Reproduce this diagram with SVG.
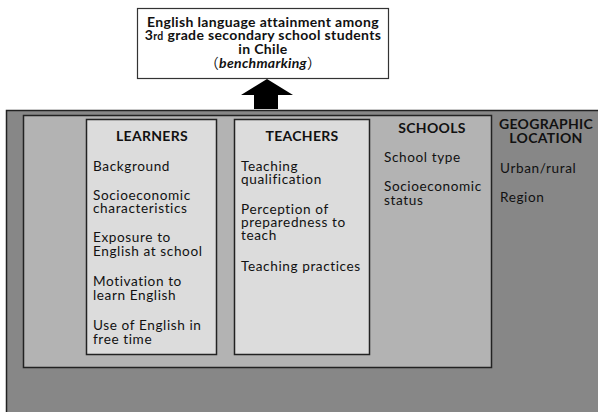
<svg xmlns="http://www.w3.org/2000/svg" width="598" height="412" viewBox="0 0 598 412">
<style>
text{font-family:Lato,"Noto Sans","Liberation Sans",sans-serif;fill:#111;}
.t{font-size:14px;font-weight:bold;text-anchor:middle;letter-spacing:0.35px;}
.h{font-size:14px;font-weight:bold;text-anchor:middle;letter-spacing:0.3px;}
.b{font-size:13.6px;letter-spacing:0.6px;}
.box{stroke:#222;stroke-width:1.5;}
</style>
<rect width="598" height="412" fill="#fff"/>
<g id="geographic">
<rect class="box" x="6.5" y="110.5" width="600" height="310" fill="#878787" stroke-width="2"/>
<text class="h" x="546" y="129">GEOGRAPHIC</text>
<text class="h" x="546" y="143">LOCATION</text>
<text class="b" x="500" y="173">Urban/rural</text>
<text class="b" x="500" y="202">Region</text>
</g>
<g id="schools">
<rect class="box" x="23.5" y="115.5" width="468" height="252" fill="#b3b3b3"/>
<text class="h" x="432" y="133">SCHOOLS</text>
<text class="b" x="384" y="162">School type</text>
<text class="b" x="384" y="191">Socioeconomic</text>
<text class="b" x="384" y="205">status</text>
</g>
<g id="learners">
<rect class="box" x="86.5" y="119.5" width="130" height="235" fill="#dcdcdc"/>
<text class="h" x="152" y="141">LEARNERS</text>
<text class="b" x="93" y="171">Background</text>
<text class="b" x="93" y="200">Socioeconomic</text>
<text class="b" x="93" y="213">characteristics</text>
<text class="b" x="93" y="242">Exposure to</text>
<text class="b" x="93" y="256">English at school</text>
<text class="b" x="93" y="286">Motivation to</text>
<text class="b" x="93" y="300">learn English</text>
<text class="b" x="93" y="330">Use of English in</text>
<text class="b" x="93" y="344">free time</text>
</g>
<g id="teachers">
<rect class="box" x="234.5" y="119.5" width="135" height="235" fill="#dcdcdc"/>
<text class="h" x="302" y="141">TEACHERS</text>
<text class="b" x="241" y="171">Teaching</text>
<text class="b" x="241" y="184">qualification</text>
<text class="b" x="241" y="214">Perception of</text>
<text class="b" x="241" y="227">preparedness to</text>
<text class="b" x="241" y="240">teach</text>
<text class="b" x="241" y="271">Teaching practices</text>
</g>
<g id="outcome">
<rect x="137.5" y="8.5" width="251" height="70" fill="#fff" stroke="#333" stroke-width="1.2"/>
<text class="t" x="263" y="27">English language attainment among</text>
<text class="t" x="263" y="40">3<tspan font-size="10.5px">rd</tspan> grade secondary school students</text>
<text class="t" x="263" y="54">in Chile</text>
<text x="263" y="68" style="font-size:14px;text-anchor:middle;letter-spacing:0.3px;"><tspan font-family="'Noto Sans CJK JP',sans-serif" font-weight="normal">（</tspan><tspan font-weight="bold" font-style="italic">benchmarking</tspan><tspan font-family="'Noto Sans CJK JP',sans-serif" font-weight="normal">）</tspan></text>
</g>
<g id="connectors">
<polygon points="254,109 254,95 241,95 267,79 293,95 278,95 278,109" fill="#000"/>
</g>
</svg>
